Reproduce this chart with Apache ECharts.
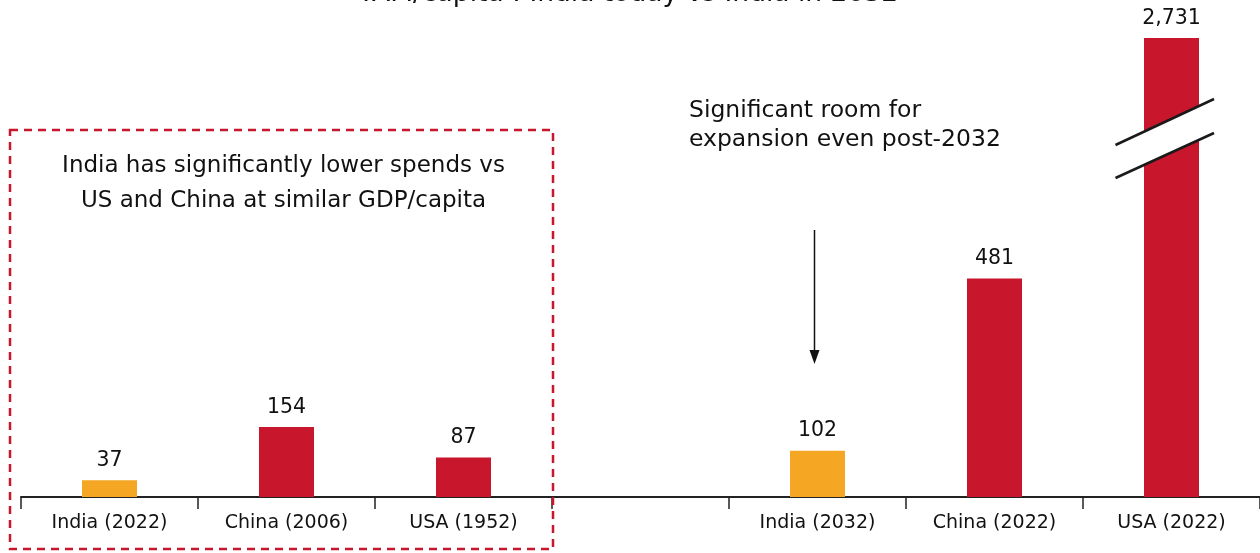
<!DOCTYPE html>
<html><head><meta charset="utf-8">
<script src="https://cdn.jsdelivr.net/npm/echarts@6/dist/echarts.min.js"></script>
<style>html,body{margin:0;padding:0;background:#fff}#c{width:1260px;height:553px}</style>
</head><body><div id="c"></div>
<script>
const categories = ['India (2022)', 'China (2006)', 'USA (1952)', '', 'India (2032)', 'China (2022)', 'USA (2022)'];
const values = [37, 154, 87, null, 102, 481, 2731];
const barColors = ['#F5A623', '#C8162D', '#C8162D', '#C8162D', '#F5A623', '#C8162D', '#C8162D'];
const titleText = 'TAM/capita : India today vs India in 2032';
const noteLeft = ['India has significantly lower spends vs', 'US and China at similar GDP/capita'];
const noteRight = ['Significant room for', 'expansion even post-2032'];
const yMax = 1010; // visible cap of the value axis; taller bars are shown broken

const FONT = '"DejaVu Sans", "Noto Sans", sans-serif';
const chart = echarts.init(document.getElementById('c'), null, {renderer: 'canvas'});
chart.setOption({
  animation: false,
  backgroundColor: '#fff',
  grid: {left: 21, right: 0, top: 38, bottom: 56, containLabel: false},
  xAxis: {
    type: 'category', data: categories, boundaryGap: true,
    axisLine: {lineStyle: {color: '#222', width: 2}},
    axisTick: {show: true, length: 12, lineStyle: {color: '#222', width: 1.5}},
    axisLabel: {color: '#111', fontFamily: FONT, fontSize: 19, margin: 17}
  },
  yAxis: {type: 'value', min: 0, max: yMax, show: false, splitLine: {show: false}},
  series: [{
    type: 'bar', barWidth: 55, clip: true,
    data: values.map((v, i) => ({value: v, itemStyle: {color: barColors[i]}})),
    label: {
      show: true, position: 'top', distance: 9, color: '#111',
      fontFamily: FONT, fontSize: 20.5,
      formatter: p => (p.value == null ? '' : Number(p.value).toLocaleString('en-US'))
    }
  }]
});

function px(cat, val) { return chart.convertToPixel({gridIndex: 0}, [cat, val]); }
const band = px(categories[1], 0)[0] - px(categories[0], 0)[0];
const c0 = px(categories[0], 0);
const c2 = px(categories[2], 0);
const c4 = px(categories[4], 0);
const c6 = px(categories[6], yMax);

const g = [];
// title (partially cut at the top edge like the reference)
g.push({type: 'text', x: 628, y: 8, z: 100, silent: true,
  style: {text: titleText, font: '26.5px ' + FONT, fill: '#111', textAlign: 'center', textVerticalAlign: 'bottom'}});
// dashed box around left group
const bx0 = c0[0] - band / 2 - 11, bx1 = c2[0] + band / 2 + 1;
g.push({type: 'rect', z: 100, silent: true,
  shape: {x: bx0, y: 130, width: bx1 - bx0, height: 419},
  style: {fill: 'none', stroke: '#C8162D', lineWidth: 2.5, lineDash: [8, 6]}});
noteLeft.forEach((t, i) => g.push({type: 'text', x: (bx0 + bx1) / 2 + 2, y: 166 + i * 35, z: 100, silent: true,
  style: {text: t, font: '23px ' + FONT, fill: '#111', textAlign: 'center', textVerticalAlign: 'middle'}}));
// right note
noteRight.forEach((t, i) => g.push({type: 'text', x: 689, y: 111 + i * 29, z: 100, silent: true,
  style: {text: t, font: '23.5px ' + FONT, fill: '#111', textAlign: 'left', textVerticalAlign: 'middle'}}));
// arrow
const ax = c4[0] - 3;
g.push({type: 'line', z: 100, silent: true, shape: {x1: ax, y1: 230, x2: ax, y2: 352}, style: {stroke: '#111', lineWidth: 1.5}});
g.push({type: 'polygon', z: 100, silent: true, shape: {points: [[ax - 5, 350], [ax + 5, 350], [ax, 364]]}, style: {fill: '#111'}});
// break marks on the capped bar
const cx = c6[0], ty = c6[1];
const slope = (61 - 107) / 98.5;
const yAt = (base, x) => base + slope * (x - (cx - 56));
const p1 = [[cx - 56, ty + 107], [cx + 42.5, ty + 61]];
const p2 = [[cx - 56, ty + 140], [cx + 42.5, ty + 95]];
const xl = cx - 29, xr = cx + 29;
g.push({type: 'polygon', z: 100, silent: true,
  shape: {points: [[xl, yAt(ty + 107, xl)], [xr, yAt(ty + 107, xr)], [xr, yAt(ty + 140, xr)], [xl, yAt(ty + 140, xl)]]},
  style: {fill: '#fff'}});
[p1, p2].forEach(p => g.push({type: 'line', z: 101, silent: true, shape: {x1: p[0][0], y1: p[0][1], x2: p[1][0], y2: p[1][1]},
  style: {stroke: '#1a1a1a', lineWidth: 2.5}}));
chart.setOption({graphic: g});
</script></body></html>
